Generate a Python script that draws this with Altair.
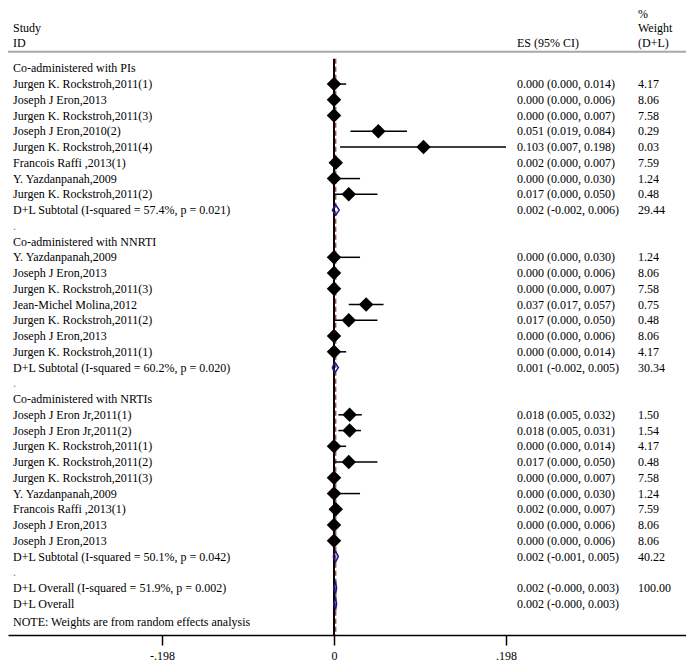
import altair as alt
import pandas as pd

# ---------------- data ----------------
labels = [
    "Co-administered with  PIs",
    "Jurgen K. Rockstroh,2011(1)",
    "Joseph J Eron,2013",
    "Jurgen K. Rockstroh,2011(3)",
    "Joseph J Eron,2010(2)",
    "Jurgen K. Rockstroh,2011(4)",
    "Francois Raffi ,2013(1)",
    "Y. Yazdanpanah,2009",
    "Jurgen K. Rockstroh,2011(2)",
    "D+L Subtotal  (I-squared = 57.4%, p = 0.021)",
    ".",
    "Co-administered with NNRTI",
    "Y. Yazdanpanah,2009",
    "Joseph J Eron,2013",
    "Jurgen K. Rockstroh,2011(3)",
    "Jean-Michel Molina,2012",
    "Jurgen K. Rockstroh,2011(2)",
    "Joseph J Eron,2013",
    "Jurgen K. Rockstroh,2011(1)",
    "D+L Subtotal  (I-squared = 60.2%, p = 0.020)",
    ".",
    "Co-administered with NRTIs",
    "Joseph J Eron Jr,2011(1)",
    "Joseph J Eron Jr,2011(2)",
    "Jurgen K. Rockstroh,2011(1)",
    "Jurgen K. Rockstroh,2011(2)",
    "Jurgen K. Rockstroh,2011(3)",
    "Y. Yazdanpanah,2009",
    "Francois Raffi ,2013(1)",
    "Joseph J Eron,2013",
    "Joseph J Eron,2013",
    "D+L Subtotal  (I-squared = 50.1%, p = 0.042)",
    ".",
    "D+L Overall  (I-squared = 51.9%, p = 0.002)",
    "D+L Overall",
    "NOTE: Weights are from random effects analysis",
]
# kind: h = group header, s = study, p = pooled, d = dot, n = note
kinds = ["h", "s", "s", "s", "s", "s", "s", "s", "s", "p", "d",
         "h", "s", "s", "s", "s", "s", "s", "s", "p", "d",
         "h", "s", "s", "s", "s", "s", "s", "s", "s", "s", "p", "d",
         "p", "p", "n"]
es = [None, 0.000, 0.000, 0.000, 0.051, 0.103, 0.002, 0.000, 0.017, 0.002, None,
      None, 0.000, 0.000, 0.000, 0.037, 0.017, 0.000, 0.000, 0.001, None,
      None, 0.018, 0.018, 0.000, 0.017, 0.000, 0.000, 0.002, 0.000, 0.000, 0.002, None,
      0.002, 0.002, None]
lo = [None, 0.000, 0.000, 0.000, 0.019, 0.007, 0.000, 0.000, 0.000, -0.002, None,
      None, 0.000, 0.000, 0.000, 0.017, 0.000, 0.000, 0.000, -0.002, None,
      None, 0.005, 0.005, 0.000, 0.000, 0.000, 0.000, 0.000, 0.000, 0.000, -0.001, None,
      -0.0004, -0.0004, None]
hi = [None, 0.014, 0.006, 0.007, 0.084, 0.198, 0.007, 0.030, 0.050, 0.006, None,
      None, 0.030, 0.006, 0.007, 0.057, 0.050, 0.006, 0.014, 0.005, None,
      None, 0.032, 0.031, 0.014, 0.050, 0.007, 0.030, 0.007, 0.006, 0.006, 0.005, None,
      0.003, 0.003, None]
weights = ["", "4.17", "8.06", "7.58", "0.29", "0.03", "7.59", "1.24", "0.48", "29.44", "",
           "", "1.24", "8.06", "7.58", "0.75", "0.48", "8.06", "4.17", "30.34", "",
           "", "1.50", "1.54", "4.17", "0.48", "7.58", "1.24", "7.59", "8.06", "8.06", "40.22", "",
           "100.00", "", ""]
row_pos = list(range(35)) + [35.15]

overall_es = 0.002
tick_values = [-0.198, 0.0, 0.198]
tick_labels = ["-.198", "0", ".198"]

header_text = ["%", "Study", "Weight", "ID", "ES (95% CI)", "(D+L)"]
header_col = ["w", "s", "w", "s", "e", "w"]
header_row = [-3.45, -2.58, -2.58, -1.6, -1.6, -1.6]

# ---------------- frames ----------------
def fmt(v):
    return f"{v:.3f}"

rows = []
for i, lab in enumerate(labels):
    e = es[i]
    rows.append(dict(
        r=row_pos[i], label=lab, kind=kinds[i], es=e, lo=lo[i], hi=hi[i],
        weight=weights[i],
        estext=(f"{fmt(e)} ({fmt(lo[i])}, {fmt(hi[i])})" if e is not None else ""),
    ))
df = pd.DataFrame(rows)
studies = df[df.kind == "s"]
pooled = df[df.kind == "p"]

poly = []
h = 0.33
for _, p in pooled.iterrows():
    pts = [(p.lo, p.r), (p.es, p.r - h), (p.hi, p.r), (p.es, p.r + h), (p.lo, p.r)]
    for k, (x, y) in enumerate(pts):
        poly.append(dict(x=x, y=y, grp=p.r, ord=k))
polydf = pd.DataFrame(poly)

hdr = pd.DataFrame(dict(text=header_text, col=header_col, r=header_row))

W, H = 678, 627
FONT = "Liberation Serif"
xscale = alt.Scale(domain=[-0.37527, 0.40520], nice=False, zero=False)
yscale = alt.Scale(domain=[-3.829, 35.98], reverse=True, nice=False, zero=False)
xaxis = alt.Axis(values=tick_values, title=None, grid=False,
                 labelExpr="datum.value < 0 ? '%s' : (datum.value > 0 ? '%s' : '%s')"
                 % (tick_labels[0], tick_labels[2], tick_labels[1]),
                 tickSize=10, tickWidth=1.5, tickColor="black",
                 domainColor="black", domainWidth=1.5,
                 labelFont=FONT, labelFontSize=12, labelColor="black",
                 labelPadding=5)


def X(f):
    return alt.X(f, type="quantitative", scale=xscale, axis=xaxis)


def Y(f):
    return alt.Y(f, type="quantitative", scale=yscale, axis=None)


lines_df = pd.DataFrame(dict(x=[0.0, overall_es], top=[-0.6, -0.6], bot=[35.98, 35.98],
                             which=["zero", "overall"]))

zero_line = alt.Chart(lines_df[lines_df.which == "zero"]).mark_rule(
    color="black", strokeWidth=2).encode(x=X("x"), y=Y("top"), y2="bot")
ov_line = alt.Chart(lines_df[lines_df.which == "overall"]).mark_rule(
    color="#9b2a2a", strokeWidth=1.2, strokeDash=[5, 3]).encode(x=X("x"), y=Y("top"), y2="bot")

sep = alt.Chart(pd.DataFrame(dict(r=[-1.05]))).mark_rule(
    color="#a8a8a8", strokeWidth=2).encode(y=Y("r"), x=alt.value(0), x2=alt.value(W))

ci = alt.Chart(studies).mark_rule(color="black", strokeWidth=1.5).encode(
    x=X("lo"), x2="hi", y=Y("r"))
dia = alt.Chart(studies).mark_point(shape="diamond", filled=True, color="black",
                                    size=210, opacity=1).encode(x=X("es"), y=Y("r"))
pool = alt.Chart(polydf).mark_line(color="#1c1c8a", strokeWidth=1.5).encode(
    x=X("x"), y=Y("y"), detail="grp:N", order="ord:Q")

txt_base = dict(font=FONT, fontSize=12, baseline="middle", align="left", color="black")
lab_txt = alt.Chart(df[df.kind != "d"]).mark_text(**txt_base).encode(
    x=alt.value(5), y=Y("r"), text="label:N")
dot_txt = alt.Chart(df[df.kind == "d"]).mark_text(**{**txt_base, "color": "#888888"}).encode(
    x=alt.value(5), y=Y("r"), text="label:N")
es_txt = alt.Chart(df).mark_text(**txt_base).encode(
    x=alt.value(509), y=Y("r"), text="estext:N")
w_txt = alt.Chart(df).mark_text(**txt_base).encode(
    x=alt.value(630), y=Y("r"), text="weight:N")
h_s = alt.Chart(hdr[hdr.col == "s"]).mark_text(**txt_base).encode(
    x=alt.value(5), y=Y("r"), text="text:N")
h_e = alt.Chart(hdr[hdr.col == "e"]).mark_text(**txt_base).encode(
    x=alt.value(509), y=Y("r"), text="text:N")
h_w = alt.Chart(hdr[hdr.col == "w"]).mark_text(**txt_base).encode(
    x=alt.value(630), y=Y("r"), text="text:N")

chart = alt.layer(
    sep, zero_line, ov_line, ci, dia, pool, lab_txt, dot_txt, es_txt, w_txt, h_s, h_e, h_w
).properties(
    width=W, height=H,
    background="white",
    autosize=alt.AutoSizeParams(type="none"),
    padding={"left": 0, "top": 0, "right": 0, "bottom": 30},
).configure_view(strokeWidth=0, stroke=None)

chart.save("out.html", embed_options={"renderer": "svg", "actions": False})
